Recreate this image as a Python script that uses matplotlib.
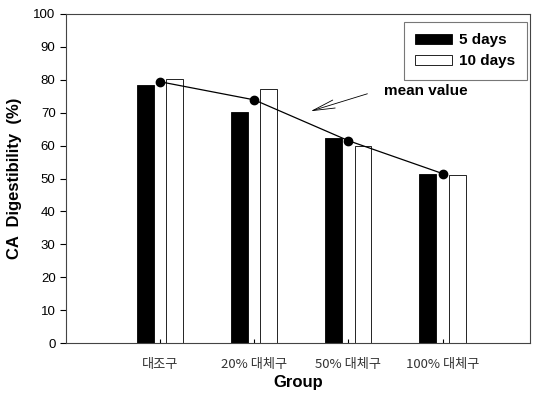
import numpy as np
import matplotlib
matplotlib.use("Agg")
import matplotlib.pyplot as plt

plt.rcParams['font.family'] = ['Liberation Sans', 'Noto Sans CJK KR', 'DejaVu Sans']

groups = ["대조구", "20% 대체구", "50% 대체구", "100% 대체구"]
days5 = [78.4, 70.1, 62.2, 51.3]
days10 = [80.2, 77.1, 60.0, 51.0]
mean_vals = [79.4, 73.9, 61.5, 51.5]

x = np.arange(1, len(groups) + 1)
w = 0.18
off = 0.155

fig = plt.figure(figsize=(5.34, 4.0), dpi=100)
ax = fig.add_axes([0.1236, 0.1425, 0.869, 0.8225])

ax.bar(x - off, days5, width=w, color="black", edgecolor="black", linewidth=0.6, label="5 days")
ax.bar(x + off, days10, width=w, color="white", edgecolor="black", linewidth=0.6, label="10 days")
ax.plot(x, mean_vals, color="black", linewidth=0.9, marker="o", markersize=6, zorder=3)

ax.annotate("", xy=(2.57, 70.2), xytext=(3.23, 76.0),
            arrowprops=dict(arrowstyle="->,head_length=1.6,head_width=0.3", color="black", linewidth=0.6))
ax.text(3.38, 76.6, "mean value", fontsize=11, fontweight="bold", va="center", ha="left")

ax.set_xlim(0, 4.93)
ax.set_ylim(0, 100)
ax.set_yticks(np.arange(0, 101, 10))
ax.set_xticks(x)
ax.set_xticklabels(groups, fontsize=9.5, color="#333333", fontfamily=['Noto Sans CJK KR', 'DejaVu Sans'])
ax.tick_params(axis="x", direction="in", length=3, pad=11)
ax.tick_params(axis="y", direction="out", length=4, labelsize=9.5)
for s in ax.spines.values():
    s.set_linewidth(0.8)
    s.set_color("#444444")

ax.set_ylabel("CA  Digestibility  (%)", fontsize=12, fontweight="bold", labelpad=8)
ax.set_xlabel("Group", fontsize=12, fontweight="bold", labelpad=3)

leg = ax.legend(loc="upper right", bbox_to_anchor=(0.9935, 0.9757), borderaxespad=0,
                prop={"weight": "bold", "size": 11},
                fancybox=False, edgecolor="#555555", handlelength=2.4, handleheight=0.65,
                borderpad=0.75, labelspacing=0.45, handletextpad=0.5)
leg.get_frame().set_linewidth(0.8)

fig.savefig("out.png", dpi=100)
